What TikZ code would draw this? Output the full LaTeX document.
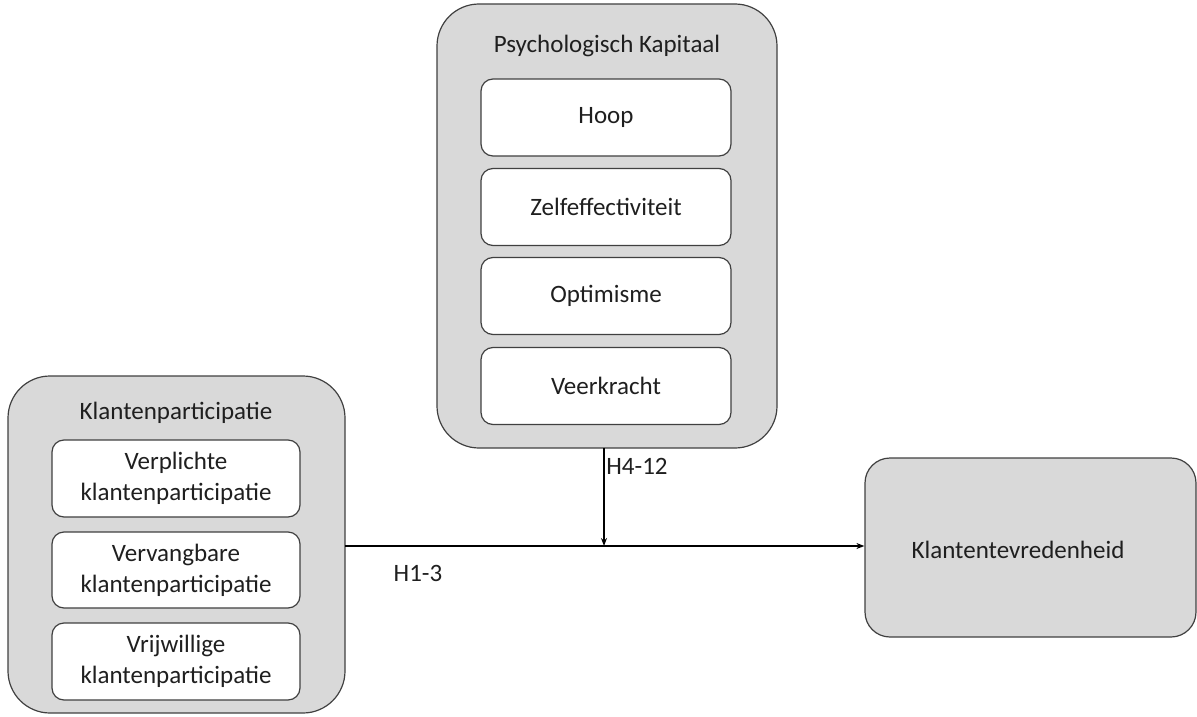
\documentclass[tikz,border=0pt]{standalone}
\usepackage{fontspec}
\setmainfont{Carlito}
\usetikzlibrary{arrows.meta}
\definecolor{boxgray}{HTML}{D9D9D9}
\definecolor{edgegray}{HTML}{404040}
\begin{document}
\begin{tikzpicture}[x=1pt,y=-1pt,
  outer/.style={draw=edgegray,line width=1.2pt,fill=boxgray,rounded corners=42pt},
  inner/.style={draw=edgegray,line width=1.2pt,fill=white,rounded corners=12pt},
  lbl/.style={font=\fontsize{25}{31}\selectfont,text=black!88,align=center},
  conn/.style={line width=1.6pt,-{Stealth[length=8pt,width=6pt]}}]
\useasboundingbox (0,0) rectangle (1197,717);
% Psychologisch Kapitaal
\draw[outer] (437,4) rectangle (777,448);
\node[lbl] (pk) at (607,46) {Psychologisch Kapitaal};
\node[inner,minimum width=250pt,minimum height=77pt] (hoop) at (606,117.5) {};
\node[lbl] at (hoop) {Hoop};
\node[inner,minimum width=250pt,minimum height=77pt] (zelf) at (606,207) {};
\node[lbl] at (zelf) {Zelfeffectiviteit};
\node[inner,minimum width=250pt,minimum height=77pt] (opt) at (606,296) {};
\node[lbl] at (opt) {Optimisme};
\node[inner,minimum width=250pt,minimum height=77pt] (veer) at (606,386) {};
\node[lbl] at (veer) {Veerkracht};
\coordinate (pkbottom) at (604,448);
% Klantenparticipatie
\draw[outer] (8,376) rectangle (345,713);
\node[lbl] (kp) at (176,413) {Klantenparticipatie};
\node[inner,minimum width=248pt,minimum height=77pt] (verp) at (176,478.5) {};
\node[lbl] at (verp) {Verplichte\\klantenparticipatie};
\node[inner,minimum width=248pt,minimum height=76pt] (verv) at (176,570) {};
\node[lbl] at (verv) {Vervangbare\\klantenparticipatie};
\node[inner,minimum width=248pt,minimum height=77pt] (vrij) at (176,661.5) {};
\node[lbl] at (vrij) {Vrijwillige\\klantenparticipatie};
\coordinate (kpright) at (345,546);
% Klantentevredenheid
\node[outer,rounded corners=25pt,minimum width=331pt,minimum height=179pt] (kt) at (1030.5,547.5) {};
\node[lbl] at (1018,550) {Klantentevredenheid};
% connectors
\coordinate (mid) at (604,546);
\draw[conn] (kpright) -- (kt.west|-kpright);
\draw[conn] (pkbottom) -- (mid);
\node[lbl] (h412) at (637,466) {H4-12};
\node[lbl] (h13) at (418,573) {H1-3};
\end{tikzpicture}
\end{document}
